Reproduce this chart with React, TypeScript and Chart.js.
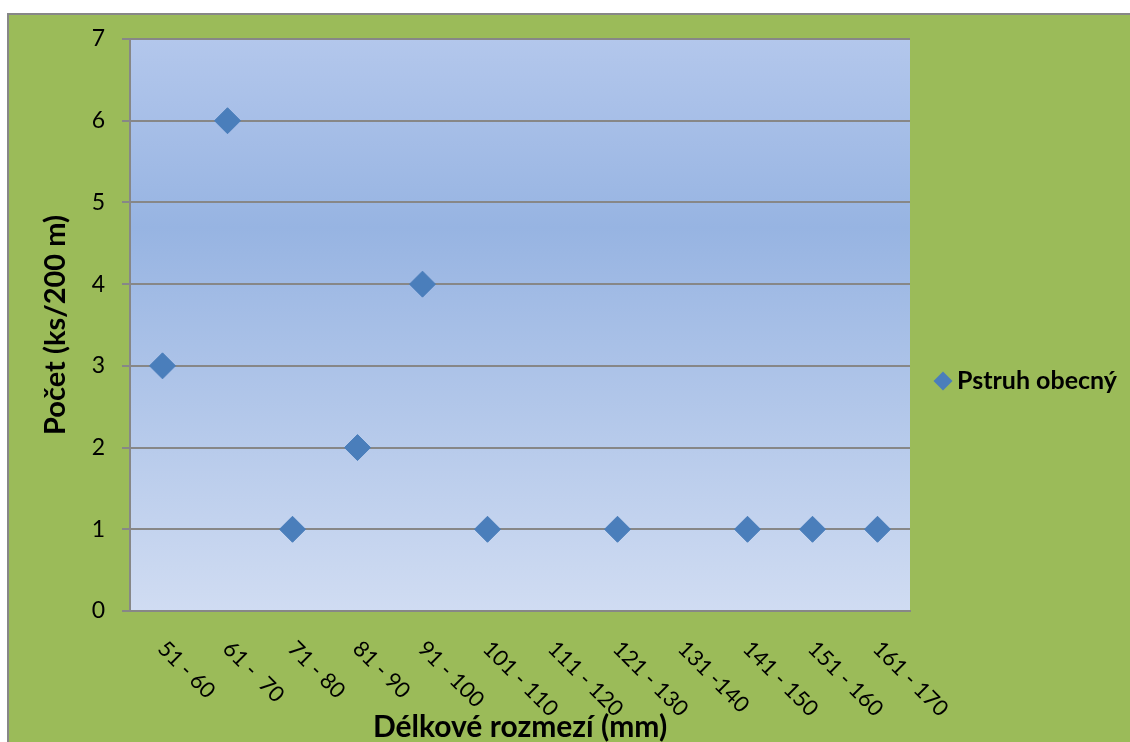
import React, { useEffect, useRef } from "react";
import { Chart, registerables } from "chart.js";

Chart.register(...registerables);

// Length classes (mm) and trout counts per 200 m of stream
const lengthClasses = [
  "51 - 60",
  "61 -  70",
  "71 - 80",
  "81 - 90",
  "91 - 100",
  "101 - 110",
  "111 - 120",
  "121 - 130",
  "131 -140",
  "141 - 150",
  "151 - 160",
  "161 - 170",
];
const troutCounts = [3, 6, 1, 2, 4, 1, null, 1, null, 1, 1, 1];
const seriesName = "Pstruh obecný";
const yAxisTitle = "Počet (ks/200 m)";
const xAxisTitle = "Délkové rozmezí (mm)";

const FONT = "Lato, 'Open Sans', sans-serif";
const GRID = "#878787";
const MARKER = "#4A7EBB";

// Blue gradient fill behind the plot area
const plotBackground = {
  id: "plotBackground",
  beforeDraw(chart: any) {
    const { ctx, chartArea: a } = chart;
    const g = ctx.createLinearGradient(0, a.top, 0, a.bottom);
    g.addColorStop(0, "#B3C7EC");
    g.addColorStop(0.33, "#97B4E2");
    g.addColorStop(1, "#D0DCF2");
    ctx.save();
    ctx.fillStyle = g;
    ctx.fillRect(a.left, a.top, a.right - a.left, a.bottom - a.top);
    ctx.restore();
  },
};

// Category labels slanted downwards to the right, starting at each tick
const slantedLabels = {
  id: "slantedLabels",
  afterDraw(chart: any) {
    const { ctx } = chart;
    const xs = chart.scales.x;
    ctx.save();
    ctx.font = `22px ${FONT}`;
    ctx.fillStyle = "#000";
    ctx.textAlign = "left";
    ctx.textBaseline = "middle";
    lengthClasses.forEach((label, i) => {
      const px = xs.getPixelForTick(i);
      ctx.save();
      ctx.translate(px - 1, xs.top + 34);
      ctx.rotate(Math.PI / 4);
      ctx.fillText(label, 0, 0);
      ctx.restore();
    });
    ctx.restore();
  },
};

// Single-entry legend to the right of the plot
const sideLegend = {
  id: "sideLegend",
  afterDraw(chart: any) {
    const { ctx, chartArea: a } = chart;
    const cx = a.right + 33;
    const cy = (a.top + a.bottom) / 2 + 56;
    const r = 9.5;
    ctx.save();
    ctx.fillStyle = MARKER;
    ctx.beginPath();
    ctx.moveTo(cx - r, cy);
    ctx.lineTo(cx, cy - r);
    ctx.lineTo(cx + r, cy);
    ctx.lineTo(cx, cy + r);
    ctx.closePath();
    ctx.fill();
    ctx.font = `bold 25px ${FONT}`;
    ctx.fillStyle = "#000";
    ctx.textAlign = "left";
    ctx.textBaseline = "middle";
    ctx.fillText(chart.data.datasets[0].label, cx + 14, cy);
    ctx.restore();
  },
};

export default function App() {
  const canvasRef = useRef<HTMLCanvasElement | null>(null);

  useEffect(() => {
    if (!canvasRef.current) return;
    const chart = new Chart(canvasRef.current, {
      type: "line",
      data: {
        labels: lengthClasses,
        datasets: [
          {
            label: seriesName,
            data: troutCounts,
            showLine: false,
            pointStyle: "rectRot",
            pointRadius: 13,
            pointHoverRadius: 13,
            pointBackgroundColor: MARKER,
            pointBorderColor: MARKER,
            pointBorderWidth: 1,
          },
        ],
      },
      options: {
        animation: false,
        responsive: true,
        maintainAspectRatio: false,
        layout: { padding: { left: 0, right: 220, top: 24, bottom: 0 } },
        plugins: {
          legend: { display: false },
          tooltip: { enabled: false },
        },
        scales: {
          x: {
            type: "category",
            offset: true,
            grid: { display: false },
            border: { display: true, color: GRID, width: 2 },
            ticks: { display: false },
            title: {
              display: true,
              text: xAxisTitle,
              color: "#000",
              font: { family: FONT, size: 30, weight: "bold", lineHeight: 1.0 },
              padding: { top: 0, bottom: 0 },
            },
            afterFit: (s: any) => {
              s.height = 131;
            },
          },
          y: {
            min: 0,
            max: 7,
            ticks: {
              stepSize: 1,
              padding: 17,
              color: "#000",
              font: { family: FONT, size: 23 },
            },
            grid: {
              color: GRID,
              lineWidth: 2,
              tickLength: 8,
              drawTicks: true,
            },
            border: { display: true, color: GRID, width: 2 },
            title: {
              display: true,
              text: yAxisTitle,
              color: "#000",
              font: { family: FONT, size: 29, weight: "bold", lineHeight: 1.0 },
              padding: { top: 32, bottom: 0 },
            },
            afterFit: (s: any) => {
              s.width = 121;
              s.paddingTop = 10;
              s.paddingBottom = 10;
            },
          },
        },
      },
      plugins: [plotBackground, slantedLabels, sideLegend],
    });
    return () => chart.destroy();
  }, []);

  return (
    <div
      style={{
        position: "fixed",
        left: 7,
        top: 13,
        right: 0,
        bottom: 0,
        overflow: "hidden",
        background: "#9BBB59",
        borderLeft: `2px solid ${GRID}`,
        borderTop: `2px solid ${GRID}`,
      }}
    >
      <div style={{ position: "relative", width: 1121, height: 727 }}>
        <canvas ref={canvasRef} />
      </div>
    </div>
  );
}
